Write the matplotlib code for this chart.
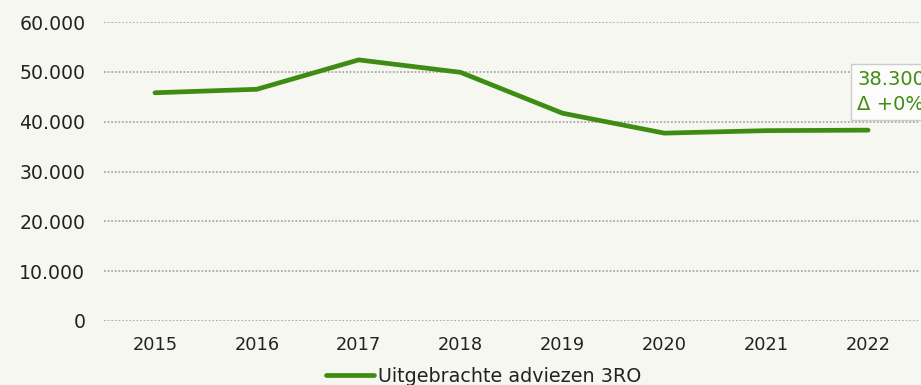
import matplotlib
matplotlib.use("Agg")
import matplotlib.pyplot as plt
from matplotlib.lines import Line2D

# Data
years = ["2015", "2016", "2017", "2018", "2019", "2020", "2021", "2022"]
adviezen = [45800, 46500, 52400, 49900, 41700, 37700, 38200, 38300]
series_name = "Uitgebrachte adviezen 3RO"
y_ticks = [0, 10000, 20000, 30000, 40000, 50000, 60000]

BG = "#f7f7f2"
GREEN = "#3f8c13"
TEXT = "#222222"
FONT = "DejaVu Sans"


def fmt_nl(v):
    return f"{int(round(v)):,}".replace(",", ".")


W, H = 921, 385
fig = plt.figure(figsize=(W / 100, H / 100), dpi=100, facecolor=BG)
ax = fig.add_axes([104 / W, (H - 321) / H, (919 - 104) / W, (321 - 22) / H])
ax.set_facecolor(BG)

xs = list(range(len(years)))
ax.set_xlim(-0.5, len(years) - 0.5)
ax.set_ylim(0, 60000)

# Grid lines
for t in y_ticks:
    ax.axhline(t, color="#aaaaaa", lw=1.3, ls=(0, (1, 1)), zorder=1)

# Series line
ax.plot(xs, adviezen, color=GREEN, lw=3.4, solid_capstyle="round",
        solid_joinstyle="round", zorder=3)

# Axes styling
for s in ax.spines.values():
    s.set_visible(False)
ax.set_xticks(xs)
ax.set_xticklabels(years, fontsize=12.8, color=TEXT, family=FONT)
ax.set_yticks(y_ticks)
ax.set_yticklabels([fmt_nl(t) for t in y_ticks], fontsize=13.6, color=TEXT,
                   family=FONT)
ax.tick_params(axis="both", length=0)
ax.tick_params(axis="x", pad=10.5)
ax.tick_params(axis="y", pad=13.5)

# Last value label
last = adviezen[-1]
prev = adviezen[-2]
delta = (last - prev) / prev * 100
label = f"{fmt_nl(last)}\n\u0394 {'+' if delta >= 0 else ''}{delta:.0f}%"
ax.annotate(label, xy=(xs[-1], last), xytext=(-11, 60),
            textcoords="offset pixels", ha="left", va="top",
            fontsize=14, color=GREEN, family=FONT, linespacing=1.4,
            annotation_clip=False, zorder=5,
            bbox=dict(boxstyle="square,pad=0.3", fc="#fcfcfa",
                      ec="#cccccc", lw=1.0))

# Legend
handle = Line2D([], [], color=GREEN, lw=3.4, solid_capstyle="round")
leg = fig.legend([handle], [series_name], loc="center",
                 bbox_to_anchor=(484 / W, 1 - 376 / H), frameon=False,
                 handlelength=2.5, handletextpad=0.2,
                 prop={"family": FONT, "size": 13.8})
for t in leg.get_texts():
    t.set_color(TEXT)

fig.savefig("out.png", dpi=100, facecolor=BG)
